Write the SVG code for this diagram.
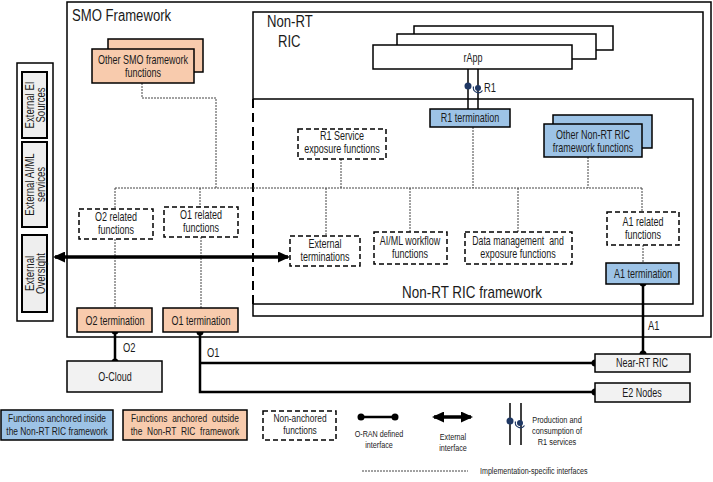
<svg xmlns="http://www.w3.org/2000/svg" width="713" height="482" viewBox="0 0 713 482">
<style>
.t{font-family:"Liberation Sans Narrow","Liberation Sans",Arial,sans-serif;font-size:12px;text-anchor:middle;fill:#1a1a1a}
.st{text-anchor:start}
.lg{font-size:10.5px}
.s{font-size:9px}
.big{font-size:16px}
.ln{stroke:#000;stroke-width:1.5;fill:#fff}
.blue{fill:#9dc3e6;stroke:#000;stroke-width:1.5}
.orange{fill:#f8cbad;stroke:#000;stroke-width:1.5}
.gray{fill:#f2f2f2;stroke:#000;stroke-width:1.5}
.dash{fill:#fff;stroke:#000;stroke-width:1.5;stroke-dasharray:5 3}
.dot{fill:none;stroke:#444;stroke-width:1;stroke-dasharray:2 1}
.oran{fill:none;stroke:#000;stroke-width:2.5}
.ext{fill:none;stroke:#000;stroke-width:3.5}
.r1l{stroke:#000;stroke-width:1.5}
</style>
<defs>
<marker id="ah" viewBox="0 0 12 11" refX="10" refY="5.5" markerWidth="12" markerHeight="11" markerUnits="userSpaceOnUse" orient="auto-start-reverse">
<path d="M0,0 L12,5.5 L0,11 z" fill="#000"/>
</marker>
<circle id="pt" r="3.5" fill="#000"/>
<g id="r1sym">
<circle cx="0" cy="0" r="3.5" fill="#1f3864"/>
<circle cx="10" cy="2" r="3" fill="#1f3864"/>
<path d="M5.5,0.5 A5,5 0 0 0 14.5,4.5" fill="none" stroke="#1f3864" stroke-width="1.2"/>
</g>
</defs>

<g id="smo-framework">
<rect x="67" y="2" width="644" height="335" class="ln"/>
<text class="t big st" transform="translate(72,21) scale(.82,1)">SMO Framework</text>
</g>

<g id="non-rt-ric">
<path d="M253,99 V12 H703 V316 H253 V304" fill="none" stroke="#000" stroke-width="1.5"/>
<text class="t big st" transform="translate(267,27) scale(.82,1)">Non-RT</text>
<text class="t big st" transform="translate(278,47) scale(.82,1)">RIC</text>
</g>

<g id="non-rt-ric-framework">
<path d="M253,99 H693 V304 H253" fill="none" stroke="#000" stroke-width="1.5"/>
<line x1="253" y1="99" x2="253" y2="304" stroke="#000" stroke-width="2" stroke-dasharray="9 5"/>
<text class="t big" transform="translate(472,298) scale(.84,1)">Non-RT RIC framework</text>
</g>

<g id="external">
<rect x="17" y="63" width="36" height="258" class="ln"/>
<rect x="22" y="72" width="25" height="66" fill="#eee" stroke="#000" stroke-width="2"/>
<text class="t" transform="translate(33.5,105) rotate(-90) scale(.8,1)">External EI</text>
<text class="t" transform="translate(44.5,105) rotate(-90) scale(.8,1)">Sources</text>
<rect x="22" y="142" width="25" height="85" fill="#eee" stroke="#000" stroke-width="2"/>
<text class="t" transform="translate(33.5,184.5) rotate(-90) scale(.8,1)">External AI/ML</text>
<text class="t" transform="translate(44.5,184.5) rotate(-90) scale(.8,1)">services</text>
<rect x="22" y="235" width="25" height="77" fill="#eee" stroke="#000" stroke-width="2"/>
<text class="t" transform="translate(33.5,273.5) rotate(-90) scale(.8,1)">External</text>
<text class="t" transform="translate(44.5,273.5) rotate(-90) scale(.8,1)">Oversight</text>
</g>

<g id="connectors">
<path class="dot" d="M142,83 V98 H216 V188"/>
<line class="dot" x1="115" y1="188" x2="642" y2="188"/>
<line class="dot" x1="341" y1="159" x2="341" y2="188"/>
<line class="dot" x1="473" y1="127" x2="473" y2="188"/>
<line class="dot" x1="588" y1="157" x2="588" y2="188"/>
<line class="dot" x1="115" y1="188" x2="115" y2="209"/>
<line class="dot" x1="200" y1="188" x2="200" y2="207"/>
<line class="dot" x1="326" y1="188" x2="326" y2="236"/>
<line class="dot" x1="410" y1="188" x2="410" y2="232"/>
<line class="dot" x1="518" y1="188" x2="518" y2="232"/>
<line class="dot" x1="642" y1="188" x2="642" y2="212"/>
<line class="dot" x1="115" y1="239" x2="115" y2="308"/>
<line class="dot" x1="201" y1="237" x2="201" y2="308"/>
<line class="dot" x1="643" y1="245" x2="643" y2="263"/>
<line class="r1l" x1="468" y1="69" x2="468" y2="109"/>
<line class="r1l" x1="478" y1="69" x2="478" y2="109"/>
<use href="#r1sym" x="468" y="86"/>
<text class="t st" transform="translate(484,92) scale(.78,1)">R1</text>
<line class="ext" x1="55" y1="257" x2="288" y2="257" marker-start="url(#ah)" marker-end="url(#ah)"/>
<line class="oran" x1="643" y1="283" x2="643" y2="354"/>
<use href="#pt" x="643" y="283"/><use href="#pt" x="643" y="354"/>
<text class="t st" transform="translate(648,330) scale(.78,1)">A1</text>
<line class="oran" x1="115" y1="331" x2="115" y2="362"/>
<use href="#pt" x="115" y="331"/><use href="#pt" x="115" y="362"/>
<text class="t st" transform="translate(123,352) scale(.78,1)">O2</text>
<path class="oran" d="M200,332 V392 H595 M200,363 H595"/>
<use href="#pt" x="200" y="332"/><use href="#pt" x="595" y="363"/><use href="#pt" x="595" y="392"/>
<text class="t st" transform="translate(207,357) scale(.78,1)">O1</text>
</g>

<g id="other-smo">
<rect x="108" y="39" width="95" height="33" class="orange"/>
<rect x="92" y="49" width="102" height="34" class="orange"/>
<text class="t" transform="translate(143,64) scale(.75,1)">Other SMO framework</text>
<text class="t" transform="translate(143,77) scale(.75,1)">functions</text>
</g>

<g id="rapp">
<rect x="414" y="26" width="199" height="24" class="ln"/>
<rect x="397" y="34" width="199" height="25" class="ln"/>
<rect x="373" y="45" width="199" height="24" class="ln"/>
<text class="t" transform="translate(473,62) scale(.75,1)">rApp</text>
</g>

<g id="r1-termination">
<rect x="430" y="109" width="80" height="18" class="blue"/>
<text class="t" transform="translate(470,122) scale(.75,1)">R1 termination</text>
</g>

<g id="other-non-rt-ric">
<rect x="553" y="115" width="99" height="33" class="blue"/>
<rect x="544" y="124" width="98" height="33" class="blue"/>
<text class="t" transform="translate(593,139) scale(.75,1)">Other Non-RT RIC</text>
<text class="t" transform="translate(593,152) scale(.75,1)">framework functions</text>
</g>

<g id="r1-service">
<rect x="298" y="129" width="88" height="30" class="dash"/>
<text class="t" transform="translate(342,140) scale(.75,1)">R1 Service</text>
<text class="t" transform="translate(342,153) scale(.75,1)">exposure functions</text>
</g>

<g id="o2-related">
<rect x="79" y="209" width="74" height="30" class="dash"/>
<text class="t" transform="translate(116,221) scale(.75,1)">O2 related</text>
<text class="t" transform="translate(116,234) scale(.75,1)">functions</text>
</g>

<g id="o1-related">
<rect x="164" y="207" width="74" height="30" class="dash"/>
<text class="t" transform="translate(201,219) scale(.75,1)">O1 related</text>
<text class="t" transform="translate(201,232) scale(.75,1)">functions</text>
</g>

<g id="external-terminations">
<rect x="290" y="236" width="70" height="30" class="dash"/>
<text class="t" transform="translate(325,248) scale(.75,1)">External</text>
<text class="t" transform="translate(325,261) scale(.75,1)">terminations</text>
</g>

<g id="aiml-workflow">
<rect x="374" y="232" width="73" height="32" class="dash"/>
<text class="t" transform="translate(410,245) scale(.75,1)">AI/ML workflow</text>
<text class="t" transform="translate(410,258) scale(.75,1)">functions</text>
</g>

<g id="data-management">
<rect x="465" y="232" width="107" height="32" class="dash"/>
<text class="t" transform="translate(518,245) scale(.73,1)" style="white-space:pre">Data management  and</text>
<text class="t" transform="translate(518,258) scale(.75,1)">exposure functions</text>
</g>

<g id="a1-related">
<rect x="607" y="212" width="72" height="33" class="dash"/>
<text class="t" transform="translate(643,226) scale(.75,1)">A1 related</text>
<text class="t" transform="translate(643,239) scale(.75,1)">functions</text>
</g>

<g id="a1-termination">
<rect x="606" y="263" width="73" height="21" class="blue"/>
<text class="t" transform="translate(643,278) scale(.75,1)">A1 termination</text>
</g>

<g id="o2-termination">
<rect x="77" y="308" width="75" height="24" class="orange"/>
<text class="t" transform="translate(115,325) scale(.75,1)">O2 termination</text>
</g>

<g id="o1-termination">
<rect x="163" y="308" width="75" height="24" class="orange"/>
<text class="t" transform="translate(201,325) scale(.75,1)">O1 termination</text>
</g>

<g id="o-cloud">
<rect x="67" y="361" width="95" height="31" class="gray"/>
<text class="t" transform="translate(115,381) scale(.75,1)">O-Cloud</text>
</g>

<g id="near-rt-ric">
<rect x="595" y="354" width="95" height="18" class="gray"/>
<text class="t" transform="translate(642,367) scale(.75,1)">Near-RT RIC</text>
</g>

<g id="e2-nodes">
<rect x="595" y="383" width="95" height="19" class="gray"/>
<text class="t" transform="translate(642,397) scale(.75,1)">E2 Nodes</text>
</g>

<g id="legend">
<rect x="1" y="410" width="112" height="30" class="blue"/>
<text class="t lg" transform="translate(57,422) scale(.8,1)">Functions anchored inside</text>
<text class="t lg" transform="translate(57,435) scale(.8,1)">the Non-RT RIC framework</text>
<rect x="123" y="410" width="124" height="30" class="orange"/>
<text class="t lg" transform="translate(185,422) scale(.8,1)" style="word-spacing:3px">Functions anchored outside</text>
<text class="t lg" transform="translate(185,435) scale(.8,1)" style="word-spacing:3px">the Non-RT RIC framework</text>
<rect x="263" y="411" width="73" height="29" class="dash"/>
<text class="t lg" transform="translate(300,422) scale(.8,1)">Non-anchored</text>
<text class="t lg" transform="translate(300,434) scale(.8,1)">functions</text>
<line class="oran" x1="361" y1="417" x2="395" y2="417"/>
<use href="#pt" x="361" y="417"/><use href="#pt" x="395" y="417"/>
<text class="t s" transform="translate(379,437) scale(.8,1)">O-RAN defined</text>
<text class="t s" transform="translate(379,448) scale(.8,1)">interface</text>
<line class="ext" x1="434" y1="417" x2="471" y2="417" marker-start="url(#ah)" marker-end="url(#ah)"/>
<text class="t s" transform="translate(453,440) scale(.8,1)">External</text>
<text class="t s" transform="translate(453,451) scale(.8,1)">interface</text>
<line class="r1l" x1="510" y1="403" x2="510" y2="445"/>
<line class="r1l" x1="521" y1="403" x2="521" y2="445"/>
<use href="#r1sym" x="510" y="421"/>
<text class="t s" transform="translate(557,423) scale(.82,1)">Production and</text>
<text class="t s" transform="translate(557,434) scale(.82,1)">consumption of</text>
<text class="t s" transform="translate(557,445) scale(.82,1)">R1 services</text>
<line class="dot" x1="362" y1="471" x2="468" y2="471"/>
<text class="t s st" transform="translate(480,474) scale(.79,1)">Implementation-specific interfaces</text>
</g>
</svg>
